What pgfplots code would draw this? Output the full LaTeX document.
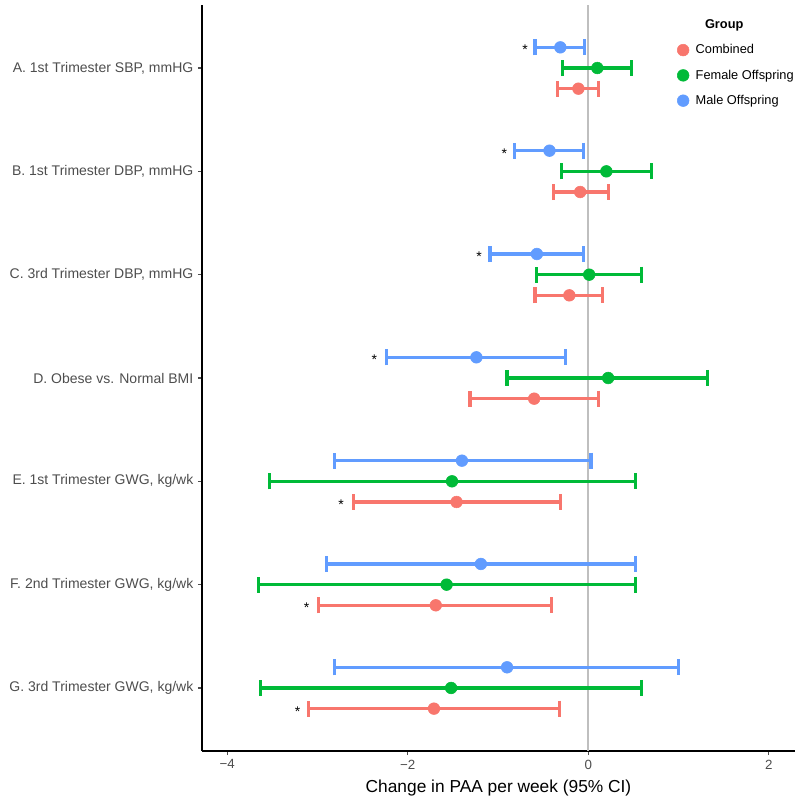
\documentclass[border=0pt]{standalone}
\usepackage{fontspec}
\setmainfont{Liberation Sans}
\usepackage{pgfplots}
\usepackage{pgfplotstable}
\pgfplotsset{compat=1.18}
\definecolor{cComb}{HTML}{F8766D}
\definecolor{cFem}{HTML}{00BA38}
\definecolor{cMale}{HTML}{619CFF}
\definecolor{tickgrey}{HTML}{4D4D4D}

% y: 7 = A ... 1 = G; dodge +-0.2
\pgfplotstableread{
y    est    lo     hi
6.8  -0.11  -0.34  0.11
5.8  -0.09  -0.39  0.22
4.8  -0.21  -0.59  0.16
3.8  -0.60  -1.31  0.11
2.8  -1.46  -2.60  -0.31
1.8  -1.69  -2.99  -0.41
0.8  -1.71  -3.10  -0.32
}\combined
\pgfplotstableread{
y    est    lo     hi
7    0.10   -0.29  0.475
6    0.20   -0.30  0.70
5    0.01   -0.57  0.59
4    0.22   -0.90  1.32
3    -1.51  -3.53  0.52
2    -1.57  -3.65  0.52
1    -1.52  -3.63  0.59
}\female
\pgfplotstableread{
y    est    lo     hi
7.2  -0.31  -0.59  -0.04
6.2  -0.43  -0.82  -0.05
5.2  -0.57  -1.09  -0.05
4.2  -1.24  -2.24  -0.25
3.2  -1.40  -2.81  0.03
2.2  -1.19  -2.90  0.52
1.2  -0.90  -2.81  1.00
}\male
\pgfplotstableread{
x      y
-0.70  7.2
-0.93  6.2
-1.21  5.2
-2.37  4.2
-2.74  2.8
-3.12  1.8
-3.22  0.8
}\stars

\pgfplotsset{
  ci/.style={only marks, mark=*, mark size=4.4pt, color=#1,
    mark options={fill=#1, draw=#1},
    error bars/x dir=both, error bars/x explicit,
    error bars/error bar style={#1, line width=2.4pt},
    error bars/error mark options={#1, rotate=90, mark size=6pt, line width=2.4pt}},
}

\begin{document}
\begin{tikzpicture}
\begin{axis}[
  name=ax,
  scale only axis,
  width=444.75pt, height=559.5pt,
  xmin=-4.28, xmax=2.29,
  ymin=0.39, ymax=7.61,
  axis x line*=bottom, axis y line*=left,
  axis line style={black, line width=1.2pt},
  xtick={-4,-2,0,2},
  xticklabels={−4,−2,0,2},
  ytick={1,...,7},
  yticklabels={{G. 3rd Trimester GWG, kg/wk}, {F. 2nd Trimester GWG, kg/wk},
    {E. 1st Trimester GWG, kg/wk}, {D. Obese vs. Normal BMI},
    {C. 3rd Trimester DBP, mmHG}, {B. 1st Trimester DBP, mmHG},
    {A. 1st Trimester SBP, mmHG}},
  tick align=outside, major tick length=3pt,
  tick style={tickgrey, line width=0.8pt},
  tick label style={font=\fontsize{10.5}{12}\selectfont, text=tickgrey},
  xticklabel style={font=\fontsize{10}{12}\selectfont},
  xlabel={Change in PAA per week (95\% CI)},
  xlabel style={font=\fontsize{13}{14}\selectfont, yshift=-1pt},
  legend cell align=left,
  legend style={draw=none, fill=none, at={(0.785,0.988)}, anchor=north west,
    font=\fontsize{9.6}{11}\selectfont, row sep=6.5pt, column sep=3pt},
  clip=false,
]
\addlegendimage{empty legend}
\addlegendentry{\hspace{7pt}\textbf{Group}}
\addplot[draw=black!25, line width=1.5pt, mark=none, forget plot]
  coordinates {(0,0.39) (0,7.61)};
\addplot[ci=cComb]
  table[x=est, y=y, x error plus expr=\thisrow{hi}-\thisrow{est},
        x error minus expr=\thisrow{est}-\thisrow{lo}] {\combined};
\addlegendentry{Combined}
\addplot[ci=cFem]
  table[x=est, y=y, x error plus expr=\thisrow{hi}-\thisrow{est},
        x error minus expr=\thisrow{est}-\thisrow{lo}] {\female};
\addlegendentry{Female Offspring}
\addplot[ci=cMale]
  table[x=est, y=y, x error plus expr=\thisrow{hi}-\thisrow{est},
        x error minus expr=\thisrow{est}-\thisrow{lo}] {\male};
\addlegendentry{Male Offspring}
\addplot[only marks, mark=none, forget plot,
  nodes near coords={*}, every node near coord/.style={anchor=center, yshift=-2pt,
    font=\fontsize{10.5}{10}\selectfont, text=black}]
  table[x=x, y=y] {\stars};
\end{axis}
\pgfresetboundingbox
\path (ax.south west) ++(-151.5pt,-36.75pt) coordinate (bl);
\path (ax.north east) ++(3.75pt,3.75pt) coordinate (tr);
\path[use as bounding box] (bl) rectangle (tr);
\end{tikzpicture}
\end{document}
